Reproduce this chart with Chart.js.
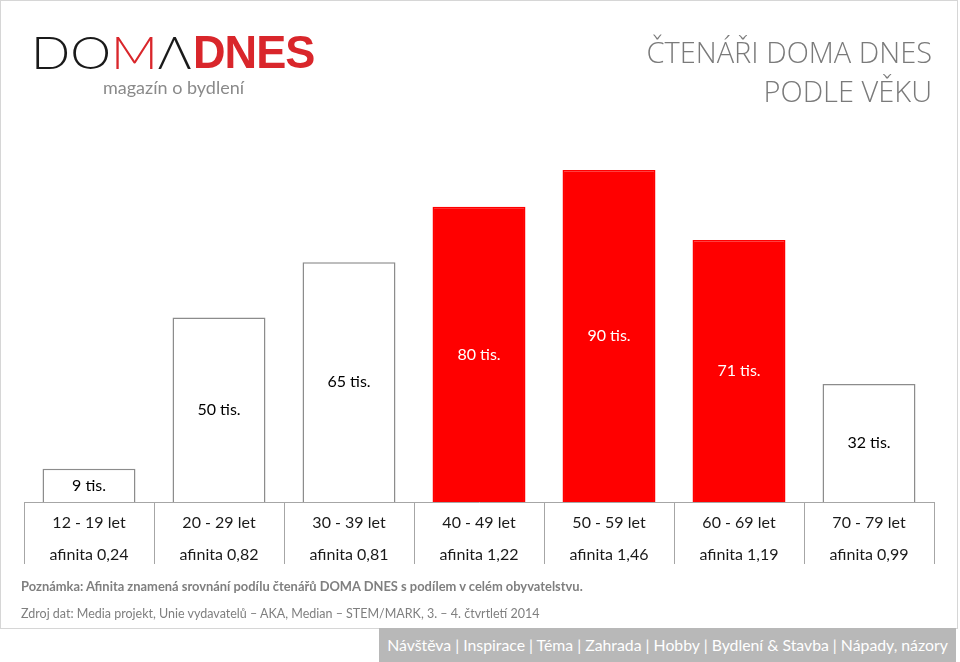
<!DOCTYPE html>
<html>
<head>
<meta charset="utf-8">
<script src="https://cdn.jsdelivr.net/npm/chart.js@4"></script>
<style>
  html, body { margin:0; padding:0; background:#fff; }
  body { width:960px; height:662px; position:relative; overflow:hidden; font-family: Lato, "Open Sans", sans-serif; }
  #frame { position:absolute; left:0; top:0; width:956px; height:627px; border:1px solid #d6d6d6; box-sizing:content-box; }
  #wrap { position:absolute; left:0; top:0; width:960px; height:662px; }
  .logo { position:absolute; left:31px; top:26px; font-size:46px; line-height:52px; white-space:nowrap; }
  .logo .doma { font-family: Lato, sans-serif; font-weight:300; color:#1a1a1a; transform:scaleX(1.12); display:inline-block; transform-origin:left; }
  .logo .m { color:#d9262b; }
  .logo .dnes { font-family: "Liberation Sans", sans-serif; font-weight:900; color:#d9262b; position:absolute; left:162px; top:0; transform:scaleX(0.98); transform-origin:left; letter-spacing:-1px; }
  .tag { position:absolute; left:103px; top:76px; font-size:18px; color:#8a8a8a; }
  .title { position:absolute; right:28px; top:32px; text-align:right; font-size:29px; line-height:39px; color:#7a7a7a; font-family:"Open Sans", sans-serif; font-weight:300; }
  .note1 { position:absolute; left:21px; top:578px; font-size:12.9px; font-weight:bold; color:#7f7f7f; }
  .note2 { position:absolute; left:21px; top:606px; font-size:12.5px; color:#7f7f7f; }
  .footer { position:absolute; left:379px; top:628px; width:577px; height:34px; background:#b8b8b8; color:#fff; font-size:15.8px; line-height:33px; text-align:center; white-space:nowrap; }
</style>
</head>
<body>
<div id="frame"></div>
<div id="wrap"><canvas id="c" width="960" height="662"></canvas></div>
<div class="logo"><span class="doma">DO<span class="m">M</span>Λ</span><span class="dnes">DNES</span></div>
<div class="tag">magazín o bydlení</div>
<div class="title">ČTENÁŘI DOMA DNES<br>PODLE VĚKU</div>
<div class="note1">Poznámka: Afinita znamená srovnání podílu čtenářů DOMA DNES s podílem v celém obyvatelstvu.</div>
<div class="note2">Zdroj dat: Media projekt, Unie vydavatelů – AKA, Median – STEM/MARK, 3. – 4. čtvrtletí 2014</div>
<div class="footer">Návštěva | Inspirace | Téma | Zahrada | Hobby | Bydlení &amp; Stavba | Nápady, názory</div>
<script>
const ageGroups = ["12 - 19 let", "20 - 29 let", "30 - 39 let", "40 - 49 let", "50 - 59 let", "60 - 69 let", "70 - 79 let"];
const affinity = ["0,24", "0,82", "0,81", "1,22", "1,46", "1,19", "0,99"];
const readers = [9, 50, 65, 80, 90, 71, 32];
const highlighted = [false, false, false, true, true, true, false];

const labels = ageGroups.map((g, i) => [g, "afinita " + affinity[i]]);

const barLabels = {
  id: 'barLabels',
  afterDatasetsDraw(chart) {
    const ctx = chart.ctx;
    const meta = chart.getDatasetMeta(0);
    ctx.save();
    ctx.font = '16px Lato, "Open Sans", sans-serif';
    ctx.textAlign = 'center';
    ctx.textBaseline = 'middle';
    meta.data.forEach((bar, i) => {
      const y = (bar.y + bar.base) / 2;
      ctx.fillStyle = highlighted[i] ? '#ffffff' : '#000000';
      ctx.fillText(readers[i] + ' tis.', bar.x, y);
    });
    ctx.restore();
  }
};

// vertical separators between category cells, positioned from the x scale
const cellLines = {
  id: 'cellLines',
  afterDraw(chart) {
    const x = chart.scales.x;
    const ctx = chart.ctx;
    const n = chart.data.labels.length;
    const half = (x.getPixelForValue(1) - x.getPixelForValue(0)) / 2;
    const top = chart.chartArea.bottom;
    ctx.save();
    ctx.strokeStyle = '#a6a6a6';
    ctx.lineWidth = 1;
    for (let i = 0; i <= n; i++) {
      const px = Math.round(x.getPixelForValue(Math.min(i, n - 1)) + (i === n ? half : -half)) + 0.5;
      ctx.beginPath();
      ctx.moveTo(px, top);
      ctx.lineTo(px, top + 62);
      ctx.stroke();
    }
    ctx.restore();
  }
};

new Chart(document.getElementById('c'), {
  type: 'bar',
  data: {
    labels: labels,
    datasets: [{
      data: readers,
      backgroundColor: highlighted.map(h => h ? '#ff0000' : '#ffffff'),
      borderColor: highlighted.map(h => h ? '#ff0000' : '#8c8c8c'),
      borderWidth: 1.5,
      borderSkipped: 'bottom',
      barPercentage: 0.715,
      categoryPercentage: 1
    }]
  },
  options: {
    responsive: false,
    animation: false,
    layout: { padding: { left: 24, right: 26, top: 133, bottom: 86 } },
    plugins: { legend: { display: false }, tooltip: { enabled: false } },
    scales: {
      y: { display: false, min: 0, max: 100 },
      x: {
        offset: true,
        grid: { display: false, drawTicks: false },
        border: { display: true, color: '#a6a6a6', width: 1 },
        ticks: {
          color: '#1a1a1a',
          padding: 5,
          font: { size: 16, family: 'Lato, "Open Sans", sans-serif', lineHeight: 2 },
          maxRotation: 0,
          autoSkip: false
        }
      }
    }
  },
  plugins: [barLabels, cellLines]
});
</script>
</body>
</html>
